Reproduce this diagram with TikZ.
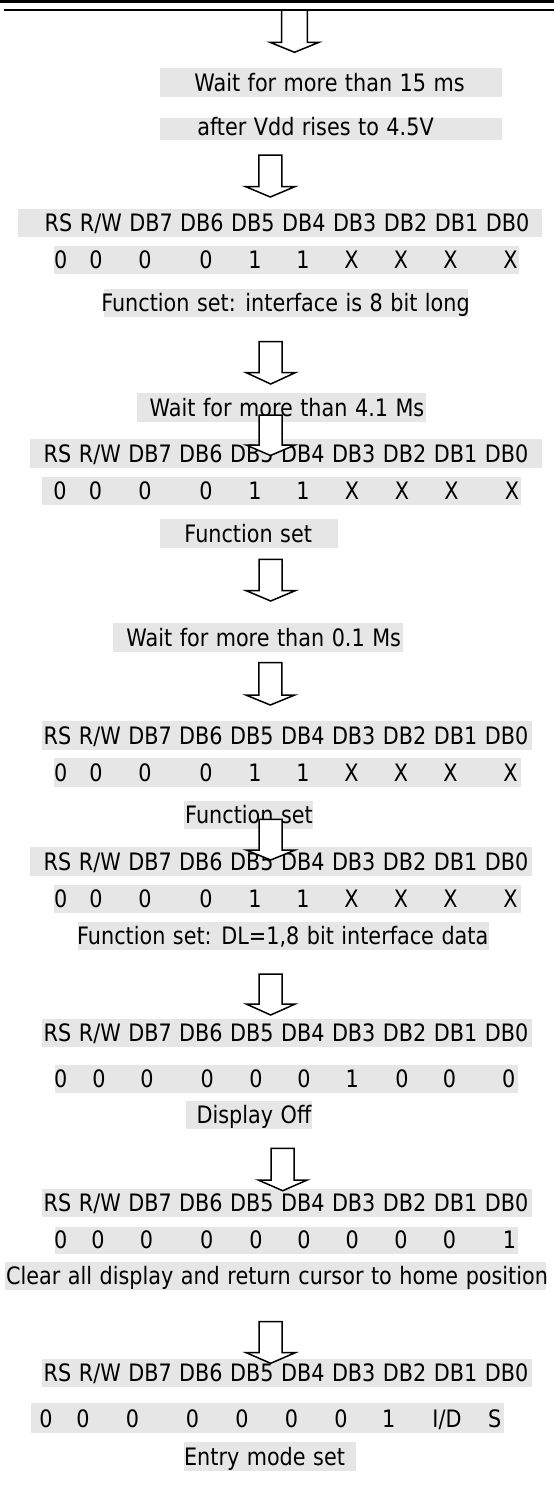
\documentclass[tikz,border=0pt]{standalone}
\usepackage{fontspec}
\setmainfont{DejaVu Sans}[FakeStretch=0.865]
\definecolor{boxgray}{HTML}{E6E6E6}
\newlength{\wordgap}
\setlength{\wordgap}{7.5pt}
\tikzset{
  txt/.style={inner sep=0pt, anchor=base, text=black,
    font=\fontsize{24}{28}\selectfont,
    execute at begin node={\spaceskip\wordgap\relax}},
  shadebox/.style={fill=boxgray, draw=none},
  blockarrow/.style={draw=black, fill=white, line width=1.5pt, line join=miter},
  rule/.style={fill=black, draw=none}
}
\newcommand{\dnarrow}[5]{%
  \draw[blockarrow] ({#1-#5},#2) -- ({#1-#5},#3) -- ({#1-24.5},#3) -- (#1,#4)
    -- ({#1+24.5},#3) -- ({#1+#5},#3) -- ({#1+#5},#2) -- cycle;}
\newcommand{\hdrtext}{RS R/W DB7 DB6 DB5 DB4 DB3 DB2 DB1 DB0}
\begin{document}
\begin{tikzpicture}[x=1pt,y=-1pt]
\useasboundingbox (0,0) rectangle (554,1510);
% top rules
\fill[rule] (0,0) rectangle (554,3.3);
\fill[rule] (3.5,9.3) rectangle (554,10.8);

% shaded backgrounds
\fill[shadebox] (160,67.7) rectangle (502,96.7);
\fill[shadebox] (160,118) rectangle (502,140);
\fill[shadebox] (17.7,209.3) rectangle (542.4,237.3);
\fill[shadebox] (53.7,246) rectangle (519.4,274);
\fill[shadebox] (103.5,289.3) rectangle (468.2,317.3);
\fill[shadebox] (137,393.3) rectangle (426,421.7);
\fill[shadebox] (30,439.3) rectangle (542.4,467.5);
\fill[shadebox] (42.4,476.5) rectangle (521.2,505);
\fill[shadebox] (160,519) rectangle (337.5,547.7);
\fill[shadebox] (113,623.3) rectangle (402.8,651.7);
\fill[shadebox] (42.4,720.7) rectangle (531.8,750);
\fill[shadebox] (53.7,758.3) rectangle (521.2,786.7);
\fill[shadebox] (183.7,801) rectangle (312.7,829.3);
\fill[shadebox] (30,846.7) rectangle (531.8,876);
\fill[shadebox] (53.7,885) rectangle (521.2,913.3);
\fill[shadebox] (77.7,922) rectangle (489.4,950);
\fill[shadebox] (42.4,1018.5) rectangle (531.8,1047.3);
\fill[shadebox] (54.8,1065) rectangle (518.4,1093);
\fill[shadebox] (185.5,1100.7) rectangle (312,1129);
\fill[shadebox] (42.4,1189) rectangle (531.8,1217.3);
\fill[shadebox] (54.8,1226.5) rectangle (518.4,1254.3);
\fill[shadebox] (5.3,1261.7) rectangle (546,1290);
\fill[shadebox] (42.4,1358.5) rectangle (531.8,1387.3);
\fill[shadebox] (31.1,1403.3) rectangle (503.5,1432.7);
\fill[shadebox] (183.7,1441.7) rectangle (355.8,1470.7);

% texts
\node[txt] (w1) at (329.5,91.2) {Wait for more than 15 ms};
\node[txt] (w1b) at (315.5,135) {after Vdd rises to 4.5V};
\node[txt] (h1) at (287,231.8) {\hdrtext};
\foreach \x/\v [count=\i] in {60.8/0,96/0,145/0,206/0,255/1,303/1,351.6/X,401/X,450.5/X,510.6/X}
  \node[txt] (va\i) at (\x,268.5) {\v};
\node[txt] (f1) at (285.5,311.8) {Function set: interface is 8 bit long};

\node[txt] (w2) at (287,416.2) {Wait for more than 4.1 Ms};
\node[txt] (h2) at (286,462) {\hdrtext};
\foreach \x/\v [count=\i] in {60/0,95.4/0,145/0,206/0,255/1,303/1,352/X,402/X,451.6/X,512/X}
  \node[txt] (vb\i) at (\x,499.5) {\v};
\node[txt] (f2) at (248.2,542.2) {Function set};

\node[txt] (w3) at (263.7,646.2) {Wait for more than 0.1 Ms};
\node[txt] (h3) at (286,744.5) {\hdrtext};
\foreach \x/\v [count=\i] in {60.8/0,96/0,145/0,206/0,255/1,303/1,351.6/X,401/X,450.5/X,510.6/X}
  \node[txt] (vc\i) at (\x,781.2) {\v};
\node[txt] (f3) at (249,823.8) {Function set};

\node[txt] (h4) at (286,870.5) {\hdrtext};
\foreach \x/\v [count=\i] in {60.8/0,96/0,145/0,206/0,255/1,303/1,351.6/X,401/X,450.5/X,510.6/X}
  \node[txt] (vd\i) at (\x,907.8) {\v};
\node[txt] (f4) at (282.7,944.5) {Function set: DL=1,8 bit interface data};

\node[txt] (h5) at (286,1041.8) {\hdrtext};
\foreach \x/\v [count=\i] in {60.8/0,99/0,147/0,207.3/0,256/0,304/0,352.3/1,402/0,449.5/0,508.8/0}
  \node[txt] (ve\i) at (\x,1087.5) {\v};
\node[txt] (f5) at (254,1123.5) {Display Off};

\node[txt] (h6) at (286,1211.8) {\hdrtext};
\foreach \x/\v [count=\i] in {60.8/0,98/0,146.6/0,206.7/0,256/0,304/0,352.3/0,401/0,449.5/0,509.5/1}
  \node[txt] (vf\i) at (\x,1248.8) {\v};
\node[txt] (f6) at (277,1284.5) {Clear all display and return cursor to home position};

\node[txt] (h7) at (286,1381.8) {\hdrtext};
\foreach \x/\v [count=\i] in {46/0,83/0,132.5/0,192.6/0,242/0,291.5/0,341/0,388.7/1}
  \node[txt] (vg\i) at (\x,1427.2) {\v};
\node[txt] (vg9) at (447,1427.2) {I/D};
\node[txt] (vg10) at (494.7,1427.2) {S};
\node[txt] (f7) at (264.5,1465.2) {Entry mode set};

% block arrows
\dnarrow{294.5}{10}{42.3}{52.3}{12.8}
\dnarrow{270.3}{155}{186.7}{197}{11.5}
\dnarrow{270.7}{341.7}{372.7}{384}{11.5}
\dnarrow{270.5}{415}{445}{455.5}{11.5}
\dnarrow{270.7}{559.3}{590.7}{601}{11.5}
\dnarrow{270.3}{662.7}{695}{705}{11.5}
\dnarrow{270.7}{819.3}{850}{860}{11.5}
\dnarrow{270.7}{974}{1004}{1015}{11.5}
\dnarrow{282.7}{1148.3}{1180}{1190.7}{11.5}
\dnarrow{270.7}{1321.7}{1352.7}{1363.3}{11.5}
\end{tikzpicture}
\end{document}
